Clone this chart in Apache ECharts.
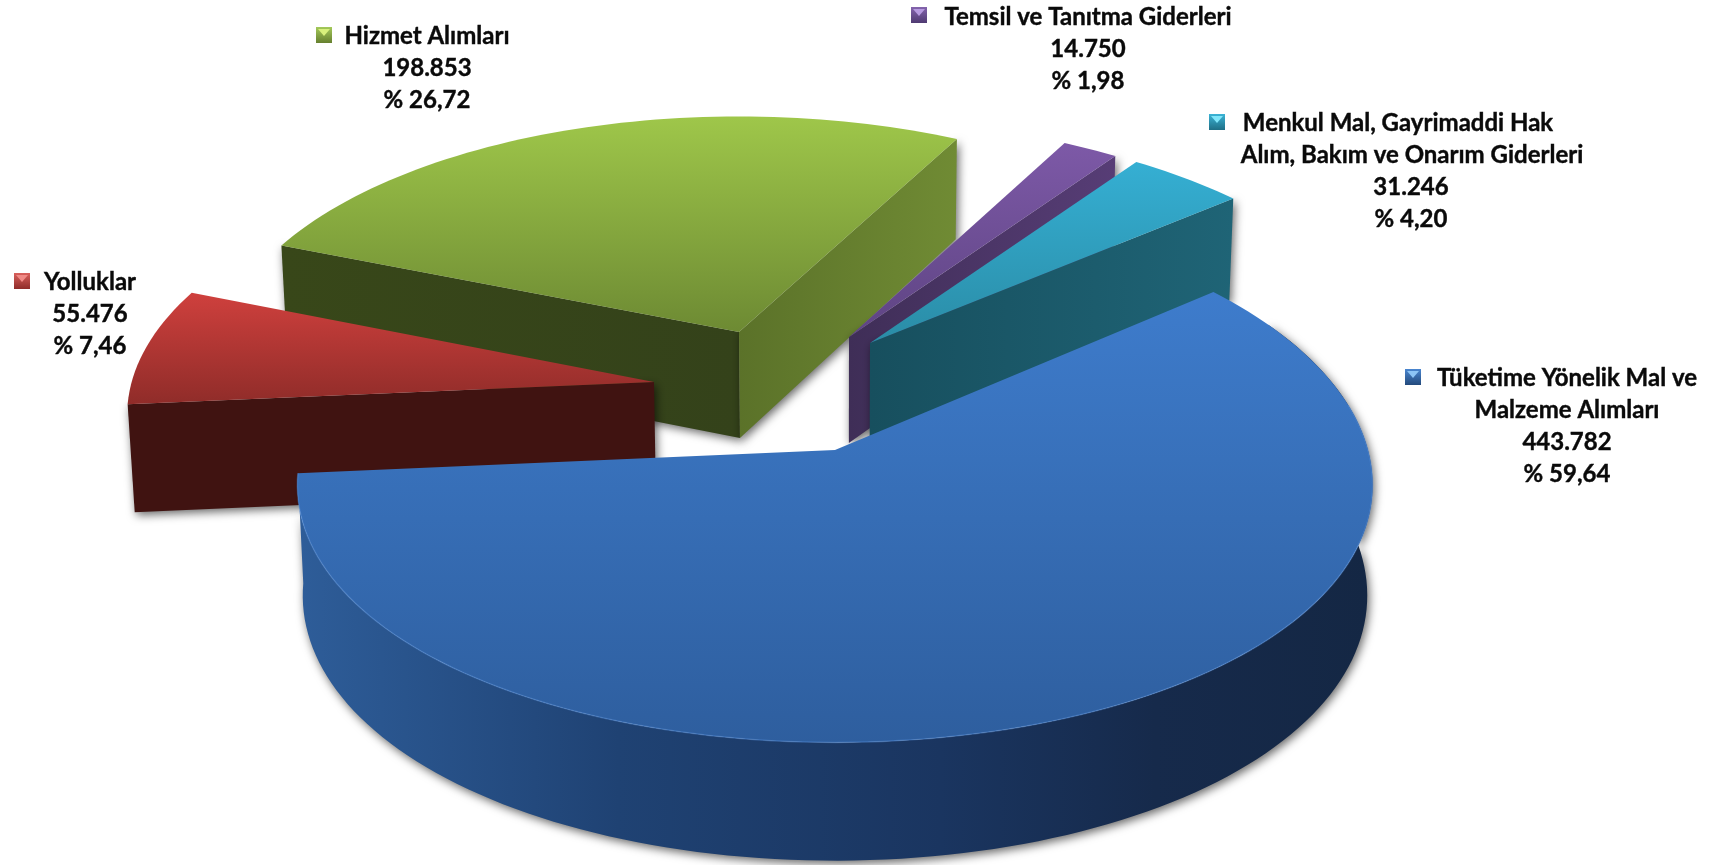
<!DOCTYPE html>
<html>
<head>
<meta charset="utf-8">
<style>html,body{margin:0;padding:0;background:#fff}#chart{width:1719px;height:865px}</style>
<script src="https://cdn.jsdelivr.net/npm/echarts@6/dist/echarts.min.js"></script>
</head>
<body>
<div id="chart"></div>
<script>
// ---- data ----
const categories = ['Yolluklar', 'Hizmet Alımları', 'Temsil ve Tanıtma Giderleri',
  'Menkul Mal, Gayrimaddi Hak\nAlım, Bakım ve Onarım Giderleri', 'Tüketime Yönelik Mal ve\nMalzeme Alımları'];
const values = [55476, 198853, 14750, 31246, 443782];
const valueLabels = ['55.476', '198.853', '14.750', '31.246', '443.782'];
const percentLabels = ['% 7,46', '% 26,72', '% 1,98', '% 4,20', '% 59,64'];

// ---- layout and style, separate from the data ----
const START_ANGLE = 265, RX = 533, RY = 258, PERSP = 0.131, VP_X = 835;
const FONT = 'bold 24px Lato, "Open Sans", sans-serif';
const LINE_H = 32;
const drawOrder = [1, 0, 2, 3, 4];
const sliceStyles = [
  { apex: [654, 382], kx: 0.98, ky: 0.974, py: PERSP, top: ['#cf403d', 293, '#8f2c29', 405],
    startWall: ['#401311', '#401311'] },
  { apex: [739, 332], kx: 0.97, ky: 0.945, py: PERSP, top: ['#9fc74a', 115, '#6d8a33', 332],
    startWall: ['#34421a', '#384719'], endWall: ['#5b7229', '#708b34'] },
  { apex: [849, 337], kx: 0.96, ky: 0.95, py: PERSP, top: ['#7d59a7', 143, '#5e4483', 337],
    endWall: ['#3f2e57', '#573d76'] },
  { apex: [870, 343], kx: 0.96, ky: 0.95, py: PERSP, top: ['#35afd3', 162, '#2a8ca6', 343],
    endWall: ['#174f5e', '#1f6476'] },
  { apex: [835, 450], kx: 1, ky: 1.02, py: 0.10, top: ['#3e7ccc', 292, '#2e5e9e', 745], rim: true }
];
const labelLayout = [
  { marker: [14, 273], cx: 90, y: 282, title: [90] },
  { marker: [316, 27], cx: 427, y: 36, title: [427] },
  { marker: [911, 7], cx: 1088, y: 17, title: [1088] },
  { marker: [1209, 114], cx: 1411, y: 123, title: [1398, 1412] },
  { marker: [1405, 369], cx: 1567, y: 378, title: [1567, 1567] }
];
const markerColors = [
  ['#d9605c', '#8f2c29', '#f08a86'], ['#a4c95a', '#66802f', '#d8f07c'],
  ['#8464ad', '#4f3a72', '#b69ae0'], ['#3bb4d6', '#1f6f86', '#80e6fa'], ['#4a86d0', '#234a7c', '#8cc4f5']
];

const total = values.reduce((a, b) => a + b, 0);
const rad = d => d * Math.PI / 180;
function proj(s, deg) {
  const u = Math.sin(rad(deg)), v = Math.cos(rad(deg));
  return [s.apex[0] + s.kx * RX * u / (1 + PERSP * v), s.apex[1] - s.ky * RY * v / (1 + s.py * v)];
}
function below(p) {
  return [p[0] + (VP_X - p[0]) * 0.01, p[1] + 96 + 0.03 * p[1]];
}
function arc(s, a, b) {
  const pts = [], n = Math.max(2, Math.ceil(Math.abs(b - a) / 1.5));
  for (let i = 0; i <= n; i++) pts.push(proj(s, a + (b - a) * i / n));
  return pts;
}
function vGrad(c0, y0, c1, y1) {
  return new echarts.graphic.LinearGradient(0, y0, 0, y1, [{ offset: 0, color: c0 }, { offset: 1, color: c1 }], true);
}
const shadow = { shadowBlur: 10, shadowColor: 'rgba(0,0,0,0.6)', shadowOffsetX: 2, shadowOffsetY: 3 };

function wall(s, deg, colors) {
  const a = s.apex, b = proj(s, deg);
  const fill = new echarts.graphic.LinearGradient(a[0], 0, b[0], 0,
    [{ offset: 0, color: colors[0] }, { offset: 1, color: colors[1] }], true);
  return { type: 'polygon', shape: { points: [a, b, below(b), below(a)] },
    style: Object.assign({ fill }, shadow) };
}

function renderSlice(params, api) {
  const i = api.value(0), val = api.value(1), s = sliceStyles[i];
  let cum = 0;
  for (let j = 0; j < i; j++) cum += values[j];
  const a0 = START_ANGLE + cum / total * 360, a1 = a0 + val / total * 360;
  const children = [];

  if (s.rim) {
    const top = arc(s, Math.max(a0, 420), a1);
    const pts = top.concat(top.map(below).reverse());
    const fill = new echarts.graphic.LinearGradient(297, 0, 1370, 0, [
      { offset: 0, color: '#2e5d99' }, { offset: 0.3, color: '#1f4273' },
      { offset: 0.6, color: '#1a3560' }, { offset: 0.8, color: '#162a4b' }, { offset: 1, color: '#142744' }], true);
    children.push({ type: 'polygon', shape: { points: pts }, style: Object.assign({ fill }, shadow) });
  }
  if (s.startWall) children.push(wall(s, a0, s.startWall));
  if (s.endWall) children.push(wall(s, a1, s.endWall));

  const outline = [s.apex].concat(arc(s, a0, a1));
  children.push({ type: 'polygon', shape: { points: outline },
    style: { fill: vGrad(s.top[0], s.top[1], s.top[2], s.top[3]) } });
  if (s.rim) {
    children.push({ type: 'polyline', shape: { points: arc(s, Math.max(a0, 440), a1) },
      style: { fill: 'none', stroke: 'rgba(95,155,235,0.35)', lineWidth: 1.5 } });
  }

  // legend marker and label text
  const L = labelLayout[i], m = markerColors[i], mx = L.marker[0], my = L.marker[1];
  children.push({ type: 'rect', shape: { x: mx, y: my, width: 16, height: 16 },
    style: { fill: vGrad(m[0], my, m[1], my + 16) } });
  children.push({ type: 'polygon', shape: { points: [[mx + 2, my + 2], [mx + 14, my + 2], [mx + 8, my + 9]] },
    style: { fill: m[2] } });
  const titleLines = categories[i].split('\n');
  const lines = titleLines.map((t, n) => [t, L.title[n]]).concat([[valueLabels[i], L.cx], [percentLabels[i], L.cx]]);
  lines.forEach((ln, n) => {
    children.push({ type: 'text', style: { text: ln[0], x: ln[1], y: L.y + n * LINE_H, font: FONT,
      fill: '#0a0a0a', stroke: '#0a0a0a', lineWidth: 0.4, textAlign: 'center', textVerticalAlign: 'middle' } });
  });
  return { type: 'group', children };
}

const chart = echarts.init(document.getElementById('chart'), null, { renderer: 'canvas' });
chart.setOption({
  animation: false,
  backgroundColor: '#ffffff',
  series: [{
    type: 'custom',
    coordinateSystem: 'none',
    silent: true,
    renderItem: renderSlice,
    data: drawOrder.map(i => ({ name: categories[i], value: [i, values[i]] }))
  }]
});
</script>
</body>
</html>
